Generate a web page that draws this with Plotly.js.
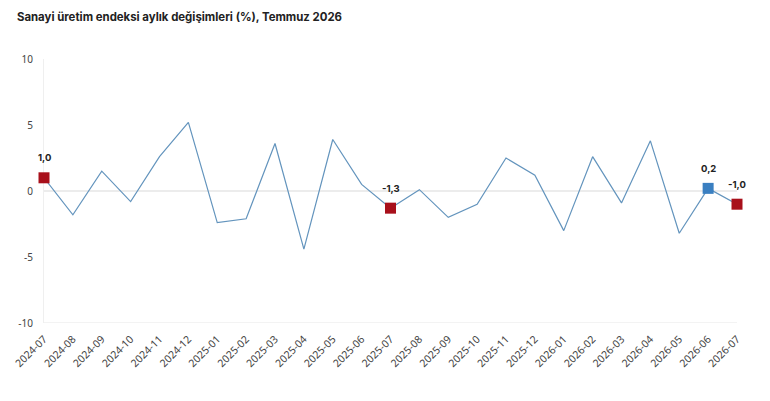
<!DOCTYPE html>
<html>
<head>
<meta charset="utf-8">
<script src="https://cdn.plot.ly/plotly-3.0.1.min.js"></script>
<style>
  html, body { margin: 0; padding: 0; background: #fff; }
  #chart { width: 770px; height: 401px; }
</style>
</head>
<body>
<div id="chart"></div>
<script>
const months = [
  "2024-07", "2024-08", "2024-09", "2024-10", "2024-11", "2024-12",
  "2025-01", "2025-02", "2025-03", "2025-04", "2025-05", "2025-06",
  "2025-07", "2025-08", "2025-09", "2025-10", "2025-11", "2025-12",
  "2026-01", "2026-02", "2026-03", "2026-04", "2026-05", "2026-06", "2026-07",
];
const monthlyChange = [
  1.0, -1.8, 1.5, -0.8, 2.6, 5.2,
  -2.4, -2.1, 3.6, -4.4, 3.9, 0.5,
  -1.3, 0.1, -2.0, -1.0, 2.5, 1.2,
  -3.0, 2.6, -0.9, 3.8, -3.2, 0.2, -1.0,
];
// points that get a square marker and a label
const highlightIdx = [0, 12, 23, 24];
const highlightColor = ["#a8101b", "#a8101b", "#3a7fc1", "#a8101b"];
const yTicks = [-10, -5, 0, 5, 10];

const fmt = (v) => v.toFixed(1).replace(".", ",");

const lineTrace = {
  type: "scatter",
  mode: "lines",
  x: months,
  y: monthlyChange,
  line: { color: "#6394bd", width: 1.2 },
  hoverinfo: "x+y",
  showlegend: false,
};

const markerTrace = {
  type: "scatter",
  mode: "markers",
  x: highlightIdx.map((i) => months[i]),
  y: highlightIdx.map((i) => monthlyChange[i]),
  marker: { symbol: "square", size: 11, color: highlightColor },
  cliponaxis: false,
  showlegend: false,
};

const labels = highlightIdx.map((i) => ({
  x: months[i],
  y: monthlyChange[i],
  xref: "x",
  yref: "y",
  text: "<b>" + fmt(monthlyChange[i]) + "</b>",
  showarrow: false,
  yshift: 20,
  font: { family: "Inter, Roboto, sans-serif", size: 9.5, color: "#222" },
}));

Plotly.newPlot(
  "chart",
  [lineTrace, markerTrace],
  {
    width: 770,
    height: 401,
    paper_bgcolor: "#fff",
    plot_bgcolor: "#fff",
    margin: { l: 44, r: 33, t: 59, b: 78 },
    title: {
      text: "<b>Sanayi üretim endeksi aylık değişimleri (%), Temmuz 2026</b>",
      x: 0.022,
      xanchor: "left",
      y: 0.957,
      yanchor: "middle",
      font: { family: "Inter, Roboto, sans-serif", size: 11.4, color: "#222" },
    },
    xaxis: {
      type: "category",
      range: [0, months.length - 1],
      tickangle: -45,
      tickfont: { family: "Noto Sans, Open Sans, sans-serif", size: 10.5, color: "#444" },
      showgrid: false,
      showline: false,
      zeroline: false,
      ticks: "",
      ticklabelstandoff: 7,
      fixedrange: true,
    },
    yaxis: {
      range: [-10, 10],
      tickvals: yTicks,
      ticktext: yTicks.map(String),
      tickfont: { family: "Noto Sans, Open Sans, sans-serif", size: 10, color: "#444" },
      showgrid: false,
      zeroline: true,
      zerolinecolor: "#ececec",
      zerolinewidth: 1.2,
      showline: true,
      linecolor: "#efefef",
      mirror: false,
      layer: "below traces",
      ticks: "",
      ticklabelstandoff: 8,
      fixedrange: true,
    },
    annotations: labels,
    shapes: [
      {
        type: "line",
        xref: "paper",
        yref: "y",
        x0: 0,
        x1: 1,
        y0: -10,
        y1: -10,
        layer: "below",
        line: { color: "#e8e8e8", width: 1.2 },
      },
    ],
    showlegend: false,
  },
  { displayModeBar: false, staticPlot: true }
);
</script>
</body>
</html>
